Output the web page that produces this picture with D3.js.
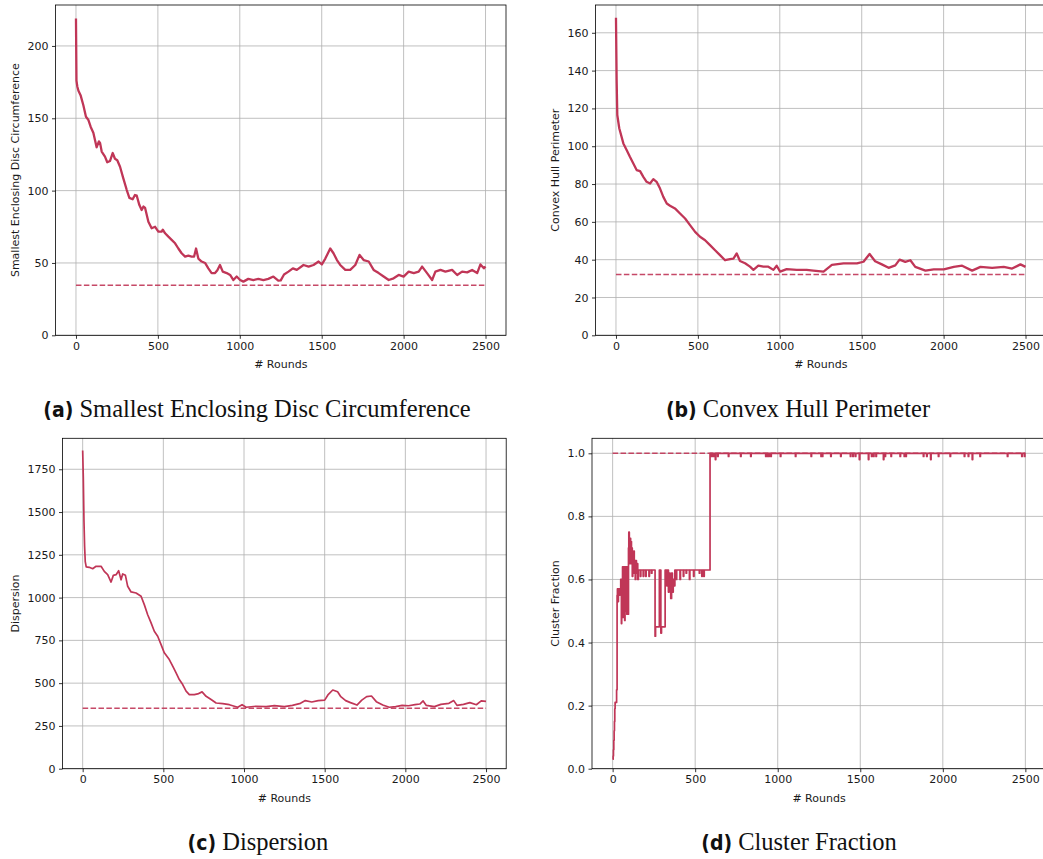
<!DOCTYPE html>
<html>
<head>
<meta charset="utf-8">
<script src="https://cdn.jsdelivr.net/npm/d3@7"></script>
<style>
  body { margin: 0; background: #fff; }
  svg { display: block; }
</style>
</head>
<body>
<div id="chart"></div>
<script>
// ---- data ----
const roundTicks = [0, 500, 1000, 1500, 2000, 2500];

const discRounds = [0, 3, 8, 15, 28, 45, 61, 75, 90, 106, 126, 140, 147, 157, 177, 191, 208, 224, 238, 252, 269, 289, 310, 326, 346, 360, 371, 387, 401, 412, 422, 442, 462, 483, 503, 523, 530, 544, 564, 584, 605, 625, 645, 666, 686, 706, 721, 733, 747, 767, 788, 808, 828, 849, 863, 879, 896, 920, 941, 961, 981, 1002, 1022, 1052, 1083, 1113, 1144, 1174, 1205, 1235, 1250, 1270, 1297, 1324, 1348, 1389, 1420, 1450, 1481, 1501, 1522, 1552, 1572, 1593, 1613, 1644, 1674, 1705, 1731, 1756, 1787, 1817, 1848, 1878, 1909, 1939, 1970, 2000, 2031, 2062, 2092, 2113, 2143, 2174, 2194, 2225, 2255, 2296, 2327, 2357, 2388, 2418, 2449, 2469, 2490, 2500];
const discValues = [219, 176, 172, 169, 166, 159, 151, 149, 144, 140, 130, 134, 133, 127, 123.5, 119.6, 120.5, 126, 122, 121, 116.5, 108.5, 100.4, 95, 94, 97, 96.5, 90, 86.6, 89, 88, 78.5, 74, 75, 71.6, 71.6, 73, 70.5, 68.2, 66, 63.6, 60, 56.7, 54.4, 55, 54.4, 54.4, 60, 53, 51, 50, 46.3, 43, 43, 45, 48.6, 44, 43, 41.7, 38.2, 40.6, 38.2, 37.1, 39, 38.2, 39, 38.2, 39, 40.6, 37.8, 38, 42, 44, 46.3, 45.2, 48.6, 47.5, 48.6, 51, 49, 53, 60, 56.7, 52, 48.6, 45.2, 45.2, 48.6, 55.6, 52, 51, 45.2, 43, 40.6, 38.2, 39.4, 41.7, 40.6, 44, 43, 44, 47.5, 43, 38.2, 44, 45.2, 44, 45.2, 41.7, 44, 43.5, 45.2, 43, 49, 46.3, 47.5];
const discOptimum = 34.6;

const hullRounds = [0, 4, 8, 20, 45, 65, 85, 106, 126, 147, 167, 187, 208, 228, 248, 269, 289, 310, 330, 360, 391, 422, 452, 483, 513, 544, 574, 605, 635, 666, 696, 717, 737, 757, 788, 818, 839, 869, 900, 930, 961, 981, 1002, 1042, 1103, 1164, 1205, 1267, 1318, 1389, 1471, 1511, 1548, 1582, 1623, 1664, 1705, 1731, 1766, 1797, 1827, 1889, 1940, 2001, 2062, 2113, 2174, 2225, 2296, 2367, 2418, 2469, 2500];
const hullValues = [168, 135, 116.5, 109.5, 101.5, 98, 94.4, 90.9, 87.4, 86.8, 83.8, 81.2, 80.3, 82.6, 81.2, 77.6, 73.2, 69.7, 68.5, 67.1, 64.4, 61.8, 58.3, 54.7, 52.1, 50.3, 47.7, 45, 42.4, 39.7, 40.3, 40.6, 43.3, 39.3, 38.1, 36.3, 34.6, 36.8, 36.3, 36.3, 34.6, 36.8, 33.7, 35, 34.6, 34.6, 34.2, 33.7, 37.2, 38, 38, 38.9, 43, 39.2, 37.5, 35.7, 37, 40, 38.8, 39.7, 36.2, 34.2, 34.9, 34.9, 36.2, 36.8, 34.2, 36.2, 35.7, 36.2, 35.3, 37.5, 36.2];
const hullOptimum = 32.1;

const dispRounds = [0, 4, 8, 12, 16, 22, 41, 62, 83, 114, 134, 155, 176, 190, 207, 223, 238, 248, 265, 279, 300, 331, 362, 382, 403, 424, 444, 465, 486, 506, 537, 558, 579, 599, 620, 641, 661, 692, 713, 740, 765, 796, 827, 868, 909, 940, 961, 988, 1013, 1075, 1137, 1188, 1250, 1300, 1350, 1380, 1420, 1460, 1500, 1520, 1550, 1580, 1600, 1630, 1660, 1700, 1730, 1760, 1790, 1820, 1860, 1900, 1940, 1980, 2020, 2060, 2090, 2110, 2130, 2180, 2220, 2270, 2300, 2320, 2360, 2400, 2440, 2470, 2500];
const dispValues = [1860, 1700, 1450, 1300, 1210, 1180, 1177, 1169, 1183, 1183, 1153, 1134, 1091, 1130, 1134, 1157, 1104, 1138, 1130, 1066, 1033, 1027, 1008, 959, 900, 852, 803, 774, 725, 677, 638, 599, 560, 521, 492, 453, 433, 433, 437, 449, 423, 404, 384, 380, 374, 365, 359, 374, 359, 365, 363, 369, 363, 370, 382, 398, 390, 398, 401, 431, 460, 450, 421, 398, 386, 372, 401, 421, 425, 392, 372, 359, 363, 370, 368, 374, 378, 396, 370, 363, 376, 382, 398, 370, 376, 386, 374, 396, 394];
const dispOptimum = 353;

// cluster fraction: value holds until the next listed round
const clusterRounds = [0, 3, 5, 7, 9, 11, 13, 15, 24, 27, 29, 33, 35, 41, 43, 49, 53, 55, 58, 60, 63, 65, 71, 73, 75, 80, 82, 86, 88, 91, 96, 98, 101, 103, 106, 109, 111, 114, 117, 119, 122, 125, 128, 131, 134, 137, 140, 144, 148, 152, 156, 168, 171, 185, 188, 200, 203, 220, 223, 235, 238, 257, 260, 283, 292, 296, 318, 328, 332, 338, 342, 348, 352, 357, 362, 367, 372, 377, 384, 388, 408, 411, 428, 431, 445, 448, 465, 468, 490, 493, 525, 528, 540, 543, 552, 555, 590];
const clusterValues = [0.03, 0.04, 0.06, 0.09, 0.12, 0.15, 0.19, 0.21, 0.25, 0.55, 0.57, 0.53, 0.57, 0.55, 0.57, 0.6, 0.46, 0.6, 0.56, 0.64, 0.48, 0.64, 0.56, 0.47, 0.64, 0.5, 0.64, 0.49, 0.64, 0.49, 0.7, 0.75, 0.73, 0.65, 0.73, 0.66, 0.72, 0.65, 0.7, 0.61, 0.68, 0.64, 0.69, 0.62, 0.66, 0.6, 0.66, 0.62, 0.65, 0.6, 0.63, 0.61, 0.63, 0.61, 0.63, 0.61, 0.63, 0.61, 0.63, 0.62, 0.63, 0.42, 0.45, 0.63, 0.43, 0.45, 0.63, 0.58, 0.63, 0.56, 0.62, 0.57, 0.54, 0.62, 0.56, 0.6, 0.58, 0.63, 0.6, 0.63, 0.6, 0.63, 0.61, 0.63, 0.62, 0.63, 0.6, 0.63, 0.61, 0.63, 0.62, 0.63, 0.61, 0.63, 0.61, 0.63, 1.0];
// short dips below 1.0 after the jump
const clusterDipRounds = [598, 610, 622, 636, 701, 775, 836, 927, 935, 945, 958, 1016, 1107, 1202, 1262, 1270, 1321, 1381, 1440, 1455, 1470, 1494, 1549, 1568, 1580, 1595, 1640, 1650, 1686, 1741, 1766, 1776, 1882, 1902, 1926, 1973, 2044, 2130, 2154, 2178, 2225, 2391, 2478, 2494];
const clusterDipValues = [0.99, 0.99, 0.98, 0.99, 0.99, 0.99, 0.99, 0.99, 0.99, 0.99, 0.99, 0.99, 0.99, 0.99, 0.99, 0.99, 0.99, 0.99, 0.99, 0.99, 0.99, 0.98, 0.98, 0.99, 0.99, 0.99, 0.98, 0.99, 0.99, 0.99, 0.99, 0.99, 0.99, 0.99, 0.98, 0.99, 0.99, 0.99, 0.99, 0.98, 0.99, 0.99, 0.99, 0.99];
const clusterOptimum = 1.0;

const discTicks = [0, 50, 100, 150, 200];
const hullTicks = [0, 20, 40, 60, 80, 100, 120, 140, 160];
const dispTicks = [0, 250, 500, 750, 1000, 1250, 1500, 1750];
const clusterTicks = [0, 0.2, 0.4, 0.6, 0.8, 1.0];

// ---- build point lists ----
const zip = (a, b) => a.map((r, i) => [r, b[i]]);
const clusterPts = zip(clusterRounds, clusterValues);
clusterDipRounds.forEach((r, i) => {
    clusterPts.push([r, clusterDipValues[i]]);
    clusterPts.push([r + 3, 1.0]);
});
clusterPts.push([2500, 1.0]);
clusterPts.sort((a, b) => a[0] - b[0]);

const lineColor = "#c03657";
const tickFont = "11px";

const panels = [
    { left: 55.5, right: 506, top: 5, bottom: 335.3, ymax: 228.3, ticks: discTicks, fmt: d3.format("d"),
      pts: zip(discRounds, discValues), opt: discOptimum, ylabel: "Smallest Enclosing Disc Circumference",
      ylabelX: 19, width: 2.3, curve: d3.curveLinear,
      tag: "(a)", caption: "Smallest Enclosing Disc Circumference", capX: 257, capY: 417 },
    { left: 595.5, right: 1046, top: 5, bottom: 335.3, ymax: 174.7, ticks: hullTicks, fmt: d3.format("d"),
      pts: zip(hullRounds, hullValues), opt: hullOptimum, ylabel: "Convex Hull Perimeter",
      ylabelX: 559, width: 2.3, curve: d3.curveLinear,
      tag: "(b)", caption: "Convex Hull Perimeter", capX: 798, capY: 417 },
    { left: 62.5, right: 506.2, top: 438.3, bottom: 768.7, ymax: 1931, ticks: dispTicks, fmt: d3.format("d"),
      pts: zip(dispRounds, dispValues), opt: dispOptimum, ylabel: "Dispersion",
      ylabelX: 19, width: 1.7, curve: d3.curveLinear,
      tag: "(c)", caption: "Dispersion", capX: 258, capY: 850 },
    { left: 592, right: 1046, top: 438.3, bottom: 768.7, ymax: 1.0476, ticks: clusterTicks, fmt: d3.format(".1f"),
      pts: clusterPts, opt: clusterOptimum, ylabel: "Cluster Fraction",
      ylabelX: 559, width: 1.7, curve: d3.curveStepAfter,
      tag: "(d)", caption: "Cluster Fraction", capX: 799, capY: 850 }
];

const svg = d3.select("#chart").append("svg")
    .attr("width", 1043)
    .attr("height", 859)
    .style("font-family", "'DejaVu Sans', sans-serif");

panels.forEach((p, k) => {
    const x = d3.scaleLinear().domain([-125, 2625]).range([p.left, p.right]);
    const y = d3.scaleLinear().domain([0, p.ymax]).range([p.bottom, p.top]);
    const g = svg.append("g");

    g.append("clipPath").attr("id", "clip" + k)
        .append("rect")
        .attr("x", p.left).attr("y", p.top)
        .attr("width", p.right - p.left).attr("height", p.bottom - p.top);

    // grid
    g.append("g").selectAll("line").data(roundTicks).join("line")
        .attr("x1", d => x(d)).attr("x2", d => x(d))
        .attr("y1", p.top).attr("y2", p.bottom)
        .attr("stroke", "#b0b0b0").attr("stroke-width", 0.8);
    g.append("g").selectAll("line").data(p.ticks).join("line")
        .attr("x1", p.left).attr("x2", p.right)
        .attr("y1", d => y(d)).attr("y2", d => y(d))
        .attr("stroke", "#b0b0b0").attr("stroke-width", 0.8);

    // axes
    const xa = g.append("g")
        .attr("transform", `translate(0,${p.bottom})`)
        .call(d3.axisBottom(x).tickValues(roundTicks).tickFormat(d3.format("d"))
            .tickSize(3.5).tickPadding(3.5).tickSizeOuter(0));
    const ya = g.append("g")
        .attr("transform", `translate(${p.left},0)`)
        .call(d3.axisLeft(y).tickValues(p.ticks).tickFormat(p.fmt)
            .tickSize(3.5).tickPadding(3.5).tickSizeOuter(0));
    [xa, ya].forEach(a => {
        a.select(".domain").remove();
        a.selectAll(".tick line").attr("stroke", "#000").attr("stroke-width", 0.8);
        a.selectAll(".tick text").attr("fill", "#1a1a1a")
            .style("font-size", tickFont).style("font-family", "'DejaVu Sans', sans-serif");
    });

    // optimum (dashed) and the series
    g.append("line")
        .attr("clip-path", `url(#clip${k})`)
        .attr("x1", x(0)).attr("x2", x(2500))
        .attr("y1", y(p.opt)).attr("y2", y(p.opt))
        .attr("stroke", lineColor).attr("stroke-width", 1.5)
        .attr("stroke-dasharray", "5.5,2.4").attr("opacity", 0.9);

    const line = d3.line().x(d => x(d[0])).y(d => y(d[1])).curve(p.curve);
    g.append("path")
        .datum(p.pts)
        .attr("clip-path", `url(#clip${k})`)
        .attr("d", line)
        .attr("fill", "none")
        .attr("stroke", lineColor)
        .attr("stroke-width", p.width)
        .attr("stroke-linejoin", "round");

    // frame
    g.append("rect")
        .attr("x", p.left).attr("y", p.top)
        .attr("width", p.right - p.left).attr("height", p.bottom - p.top)
        .attr("fill", "none").attr("stroke", "#000").attr("stroke-width", 0.8);

    // labels
    g.append("text")
        .attr("x", (p.left + p.right) / 2).attr("y", p.bottom + 33)
        .attr("text-anchor", "middle")
        .style("font-size", tickFont).attr("fill", "#1a1a1a")
        .text("# Rounds");
    g.append("text")
        .attr("transform", `translate(${p.ylabelX},${(p.top + p.bottom) / 2}) rotate(-90)`)
        .attr("text-anchor", "middle")
        .style("font-size", tickFont).attr("fill", "#1a1a1a")
        .text(p.ylabel);

    // caption
    const cap = svg.append("text")
        .attr("x", p.capX).attr("y", p.capY)
        .attr("text-anchor", "middle")
        .attr("fill", "#111");
    cap.append("tspan")
        .style("font-family", "'DejaVu Sans Condensed', 'DejaVu Sans', sans-serif")
        .style("font-stretch", "condensed")
        .style("font-weight", "bold")
        .style("font-size", "21px")
        .text(p.tag);
    cap.append("tspan")
        .style("font-family", "'Liberation Serif', 'DejaVu Serif', serif")
        .style("font-size", "24.5px")
        .text(" " + p.caption);
});
</script>
</body>
</html>
